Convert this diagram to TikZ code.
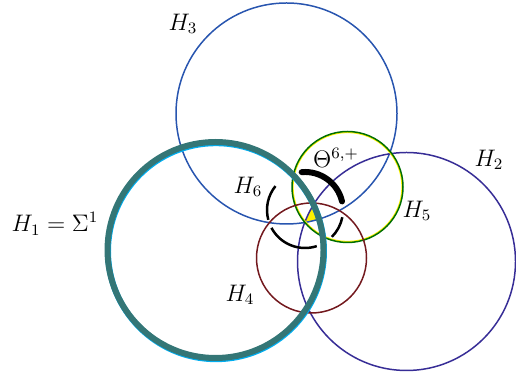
\documentclass[tikz,border=0pt]{standalone}
\usepackage{amsmath}
\definecolor{hone}{RGB}{52,118,118}
\definecolor{hthree}{RGB}{40,85,175}
\definecolor{htwo}{RGB}{55,45,150}
\definecolor{hfive}{RGB}{0,110,0}
\definecolor{hfour}{RGB}{115,25,30}
\begin{document}
\begin{tikzpicture}[x=0.5bp,y=0.5bp,
  thin circ/.style={line width=0.75pt},
  hsix/.style={line width=1.25pt,black},
  every node/.style={font=\large}]
\useasboundingbox (0,0) rectangle (516,379);
\fill[yellow] (305,158)--(314,175)--(318.5,158)--cycle;
\draw[thin circ,hthree] (286.5,265.5) circle[radius=110.5];
\draw[thin circ,htwo] (406.5,117.5) circle[radius=109];
\draw[line width=0.6pt,yellow] (347.5,192) circle[radius=54.5];
\draw[thin circ,hfive] (347.5,192) circle[radius=55.5];
\draw[thin circ,hfour] (311.5,121) circle[radius=55];
\draw[line width=3pt,cyan] (216,127.8) circle[radius=108];
\draw[line width=3pt,hone] (215.5,129) circle[radius=108];
\draw[hsix] (305,169) ++(141:38) arc[start angle=141,end angle=195,radius=38];
\draw[hsix] (305,169) ++(208:38) arc[start angle=208,end angle=288,radius=38];
\draw[hsix] (305,169) ++(315:38) arc[start angle=315,end angle=349,radius=38];
\draw[line width=3pt,line cap=round] (305,169) ++(13:38) arc[start angle=13,end angle=95,radius=38];
\node (lhthree) at (183,355){$H_3$};
\node (lhtwo) at (489,219){$H_2$};
\node (lhfive) at (417,168){$H_5$};
\node (ltheta) at (336,221){$\Theta^{6,+}$};
\node (lhsix) at (248,192){$H_6$};
\node (lhfour) at (240,84){$H_4$};
\node (lhone) at (55,155){$H_1=\Sigma^1$};
\end{tikzpicture}
\end{document}
